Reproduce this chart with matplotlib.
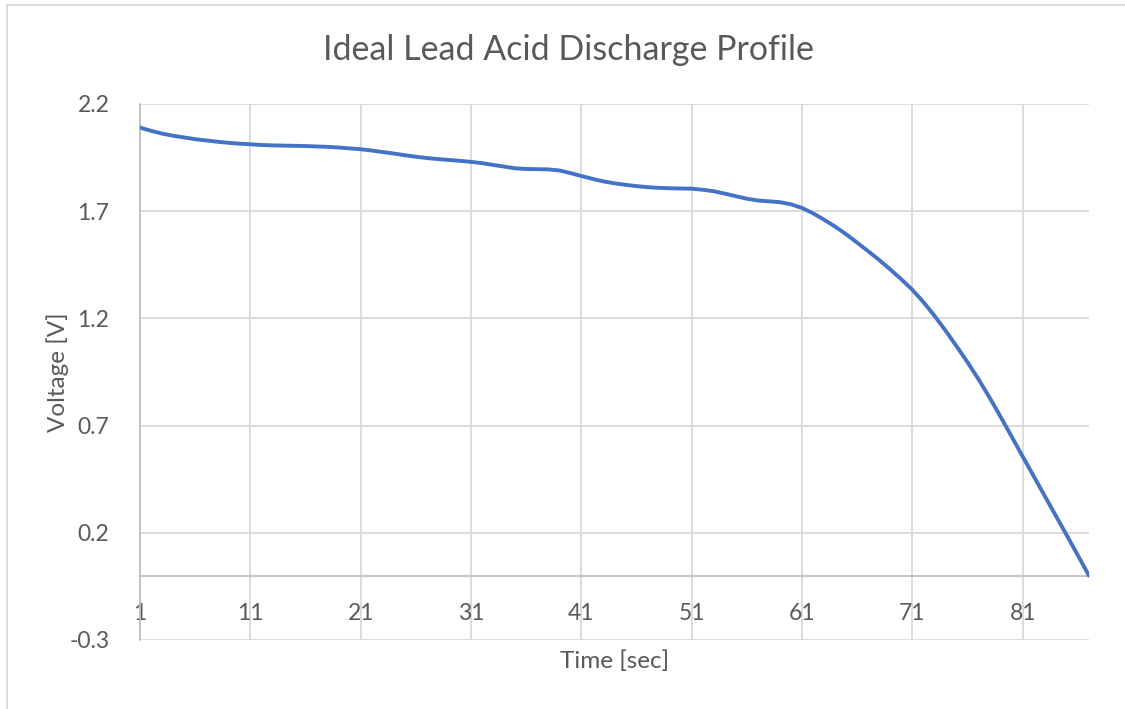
import matplotlib
matplotlib.use("Agg")
import matplotlib.pyplot as plt
from matplotlib.lines import Line2D

# ---- data ----
time_sec = list(range(1, 88))
voltage = [
    2.090, 2.075, 2.062, 2.052, 2.044, 2.036, 2.030, 2.024, 2.019, 2.015,
    2.012, 2.009, 2.007, 2.006, 2.005, 2.004, 2.002, 2.000, 1.997, 1.993,
    1.989, 1.983, 1.976, 1.969, 1.961, 1.954, 1.948, 1.943, 1.939, 1.935,
    1.930, 1.924, 1.916, 1.908, 1.900, 1.897, 1.896, 1.895, 1.890, 1.878,
    1.864, 1.851, 1.839, 1.830, 1.823, 1.817, 1.812, 1.809, 1.807, 1.806,
    1.805, 1.800, 1.793, 1.782, 1.770, 1.758, 1.750, 1.746, 1.742, 1.732,
    1.715, 1.690, 1.660, 1.628, 1.592, 1.553, 1.513, 1.472, 1.428, 1.382,
    1.333, 1.276, 1.212, 1.143, 1.070, 0.995, 0.915, 0.830, 0.740, 0.648,
    0.555, 0.463, 0.371, 0.279, 0.187, 0.094, 0.000,
]
x_ticks = [1, 11, 21, 31, 41, 51, 61, 71, 81]
y_ticks = [-0.3, 0.2, 0.7, 1.2, 1.7, 2.2]
title = "Ideal Lead Acid Discharge Profile"
x_label = "Time [sec]"
y_label = "Voltage [V]"

# ---- style ----
FONT = "Lato"
TXT = "#595959"
GRID = "#D9D9D9"
AXIS = "#BFBFBF"
LINE = "#4472C4"

W, H = 1125, 709
fig = plt.figure(figsize=(W / 100, H / 100), dpi=100)
ax = fig.add_axes([140 / W, 1 - 640 / H, (1089 - 140) / W, (640 - 104) / H])

ax.plot(time_sec, voltage, color=LINE, lw=2.8, solid_capstyle="round",
        solid_joinstyle="round", zorder=3)

ax.set_xlim(1, 87)
ax.set_ylim(-0.3, 2.2)
ax.set_xticks(x_ticks)
ax.set_yticks(y_ticks)
ax.set_yticklabels([f"{v:.1f}" for v in y_ticks])
ax.grid(True, color=GRID, lw=1.3, zorder=0)
ax.set_axisbelow(True)

for s in ("top", "right"):
    ax.spines[s].set_visible(False)
ax.spines["left"].set_color(AXIS)
ax.spines["left"].set_linewidth(1.3)
ax.spines["bottom"].set_position(("data", 0))
ax.spines["bottom"].set_color(AXIS)
ax.spines["bottom"].set_linewidth(1.3)

ax.tick_params(axis="both", length=0, colors=TXT, labelsize=16.5)
ax.tick_params(axis="x", pad=20)
ax.tick_params(axis="y", pad=22)
for lab in ax.get_xticklabels() + ax.get_yticklabels():
    lab.set_family(FONT)

ax.set_xlabel(x_label, family=FONT, fontsize=17.5, color=TXT, labelpad=0)
ax.xaxis.set_label_coords(0.5, -(661.5 - 640) / (640 - 104), transform=ax.transAxes)
ax.xaxis.label.set_va("center")
ax.set_ylabel(y_label, family=FONT, fontsize=17.5, color=TXT)
ax.yaxis.set_label_coords(-(140 - 58) / (1089 - 140), 0.5)
ax.yaxis.label.set_va("center")

fig.text(568 / W, 1 - 50 / H, title, ha="center", va="center",
         family=FONT, fontsize=24.5, color=TXT)

# chart border (visible left and top edges)
fig.add_artist(Line2D([6.5 / W, 6.5 / W], [0, 1 - 5 / H], transform=fig.transFigure,
                      color=GRID, lw=1.3))
fig.add_artist(Line2D([6.5 / W, 1], [1 - 5 / H, 1 - 5 / H], transform=fig.transFigure,
                      color=GRID, lw=1.3))

fig.savefig("out.png", dpi=100)
